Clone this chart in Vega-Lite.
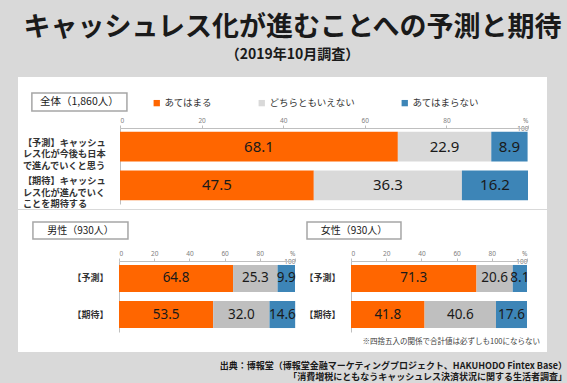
{
  "$schema": "https://vega.github.io/schema/vega-lite/v6.json",
  "background": "#d9d9d9",
  "padding": {"left": 18, "right": 5, "top": 14, "bottom": 1},
  "config": {"font": "Noto Sans CJK JP", "view": {"stroke": null}},
  "title": {
    "text": "キャッシュレス化が進むことへの予測と期待",
    "subtitle": "（2019年10月調査）",
    "fontSize": 27, "fontWeight": "bold", "color": "#1a1a1a",
    "subtitleFontSize": 14, "subtitleFontWeight": "bold", "subtitleColor": "#1a1a1a",
    "subtitlePadding": 6, "offset": 14, "anchor": "middle"
  },
  "datasets": {
    "bars": [
      {"panel": "全体", "row": "【予測】", "cat": "あてはまる", "k": 1, "v": 68.1},
      {"panel": "全体", "row": "【予測】", "cat": "どちらともいえない", "k": 2, "v": 22.9},
      {"panel": "全体", "row": "【予測】", "cat": "あてはまらない", "k": 3, "v": 8.9},
      {"panel": "全体", "row": "【期待】", "cat": "あてはまる", "k": 1, "v": 47.5},
      {"panel": "全体", "row": "【期待】", "cat": "どちらともいえない", "k": 2, "v": 36.3},
      {"panel": "全体", "row": "【期待】", "cat": "あてはまらない", "k": 3, "v": 16.2},
      {"panel": "男性", "row": "【予測】", "cat": "あてはまる", "k": 1, "v": 64.8},
      {"panel": "男性", "row": "【予測】", "cat": "どちらともいえない", "k": 2, "v": 25.3},
      {"panel": "男性", "row": "【予測】", "cat": "あてはまらない", "k": 3, "v": 9.9},
      {"panel": "男性", "row": "【期待】", "cat": "あてはまる", "k": 1, "v": 53.5},
      {"panel": "男性", "row": "【期待】", "cat": "どちらともいえない", "k": 2, "v": 32.0},
      {"panel": "男性", "row": "【期待】", "cat": "あてはまらない", "k": 3, "v": 14.6},
      {"panel": "女性", "row": "【予測】", "cat": "あてはまる", "k": 1, "v": 71.3},
      {"panel": "女性", "row": "【予測】", "cat": "どちらともいえない", "k": 2, "v": 20.6},
      {"panel": "女性", "row": "【予測】", "cat": "あてはまらない", "k": 3, "v": 8.1},
      {"panel": "女性", "row": "【期待】", "cat": "あてはまる", "k": 1, "v": 41.8},
      {"panel": "女性", "row": "【期待】", "cat": "どちらともいえない", "k": 2, "v": 40.6},
      {"panel": "女性", "row": "【期待】", "cat": "あてはまらない", "k": 3, "v": 17.6}
    ],
    "labels": [
      {"panel": "全体", "row": "【予測】", "label": "【予測】キャッシュ\nレス化が今後も日本\nで進んでいくと思う"},
      {"panel": "全体", "row": "【期待】", "label": "【期待】キャッシュ\nレス化が進んでいく\nことを期待する"}
    ],
    "heads": [
      {"panel": "全体", "title": "全体（1,860人）"},
      {"panel": "男性", "title": "男性（930人）"},
      {"panel": "女性", "title": "女性（930人）"}
    ]
  },
  "resolve": {"scale": {"color": "independent"}, "legend": {"color": "independent"}},
  "spacing": -1,
  "vconcat": [
    {
      "width": 529, "height": 132,
      "view": {"fill": "white", "stroke": null},
      "resolve": {"scale": {"y": "independent"}},
      "layer": [
        {
          "layer": [
            {
              "data": {"name": "bars"},
              "transform": [{"filter": "datum.panel == '全体'"}],
              "mark": {"type": "bar"},
              "encoding": {
                "x": {"field": "v", "type": "quantitative", "stack": "zero",
                  "scale": {"domain": [0, 100], "range": [102, 510]},
                  "axis": {"orient": "top", "offset": -51, "values": [0, 20, 40, 60, 80, 100], "title": null, "grid": false,
                    "labelExpr": "datum.value == 100 ? ['%', '100'] : datum.label",
                    "labelFontSize": 6.5, "labelColor": "#808080", "labelPadding": 2, "labelFont": "Noto Sans",
                    "tickSize": 3, "tickColor": "#bfbfbf", "domainColor": "#bfbfbf"}},
                "y": {"field": "row", "type": "nominal", "sort": ["【予測】", "【期待】"],
                  "scale": {"range": [51, 127], "paddingInner": 0.23, "paddingOuter": 0.1},
                  "axis": {"orient": "left", "offset": -102, "labels": false, "ticks": false, "title": null, "domainColor": "#bfbfbf"}},
                "color": {"field": "cat", "type": "nominal",
                  "scale": {"domain": ["あてはまる", "どちらともいえない", "あてはまらない"], "range": ["#ff6600", "#d9d9d9", "#3d85b7"]},
                  "legend": {"orient": "none", "legendX": 134, "legendY": 21, "direction": "horizontal", "title": null,
                    "symbolType": "square", "symbolSize": 40, "symbolStrokeWidth": 0, "labelFontSize": 9.5, "labelColor": "#333333",
                    "columnPadding": 44, "labelOffset": 3, "padding": 0}},
                "order": {"field": "k", "type": "quantitative"}
              }
            },
            {
              "data": {"name": "bars"},
              "transform": [
                {"filter": "datum.panel == '全体'"},
                {"stack": "v", "groupby": ["row"], "sort": [{"field": "k", "order": "ascending"}], "as": ["v0", "v1"]},
                {"calculate": "(datum.v0 + datum.v1) / 2", "as": "mid"}
              ],
              "mark": {"type": "text", "fontSize": 15, "color": "#1a1a1a", "font": "Noto Sans"},
              "encoding": {
                "x": {"field": "mid", "type": "quantitative", "scale": {"domain": [0, 100], "range": [102, 510]}},
                "y": {"field": "row", "type": "nominal", "sort": ["【予測】", "【期待】"], "scale": {"range": [51, 127], "paddingInner": 0.23, "paddingOuter": 0.1}},
                "text": {"field": "v", "type": "quantitative", "format": ".1f"}
              }
            },
            {
              "data": {"name": "labels"},
              "transform": [{"filter": "datum.panel == '全体'"}],
              "mark": {"type": "text", "align": "left", "baseline": "middle", "dy": -4, "lineBreak": "\n", "lineHeight": 11.5, "fontSize": 9.2, "fontWeight": "bold", "color": "#333333"},
              "encoding": {
                "x": {"datum": -23.8, "type": "quantitative", "scale": {"domain": [0, 100], "range": [102, 510]}},
                "y": {"field": "row", "type": "nominal", "sort": ["【予測】", "【期待】"], "scale": {"range": [51, 127], "paddingInner": 0.23, "paddingOuter": 0.1}},
                "text": {"field": "label"}
              }
            }
          ]
        },
        {
          "data": {"name": "heads"},
          "transform": [{"filter": "datum.panel == '全体'"}],
          "encoding": {
            "y": {"field": "panel", "type": "nominal", "scale": {"range": [16, 34], "paddingInner": 0, "paddingOuter": 0}, "axis": null}
          },
          "layer": [
            {"mark": {"type": "rect", "fill": "white", "stroke": "#a6a6a6", "strokeWidth": 1.5},
             "encoding": {"x": {"datum": -21.6, "type": "quantitative", "scale": {"domain": [0, 100], "range": [102, 510]}}, "x2": {"datum": 1.7}}},
            {"mark": {"type": "text", "fontSize": 10.5, "color": "#1a1a1a"},
             "encoding": {"x": {"datum": -9.95, "type": "quantitative", "scale": {"domain": [0, 100], "range": [102, 510]}}, "text": {"field": "title"}}}
          ]
        }
      ]
    },
    {
      "spacing": 0,
      "title": {
        "text": ["出典：博報堂（博報堂金融マーケティングプロジェクト、HAKUHODO Fintex Base）", "「消費増税にともなうキャッシュレス決済状況に関する生活者調査」"],
        "orient": "bottom", "anchor": "end", "fontSize": 9, "fontWeight": "bold", "color": "#1a1a1a",
        "lineHeight": 11, "offset": 10, "dx": 20
      },
      "hconcat": [
        {
          "width": 284, "height": 142,
          "view": {"fill": "white", "stroke": null},
          "resolve": {"scale": {"y": "independent"}},
          "layer": [
            {
              "layer": [
                {
                  "data": {"name": "bars"},
                  "transform": [{"filter": "datum.panel == '男性'"}],
                  "mark": {"type": "bar"},
                  "encoding": {
                    "x": {"field": "v", "type": "quantitative", "stack": "zero",
                      "scale": {"domain": [0, 100], "range": [101, 277]},
                      "axis": {"orient": "top", "offset": -51, "values": [0, 20, 40, 60, 80, 100], "title": null, "grid": false,
                        "labelExpr": "datum.value == 100 ? ['%', '100'] : datum.label",
                        "labelFontSize": 6.5, "labelColor": "#808080", "labelPadding": 2, "labelFont": "Noto Sans",
                        "tickSize": 3, "tickColor": "#bfbfbf", "domainColor": "#bfbfbf"}},
                    "y": {"field": "row", "type": "nominal", "sort": ["【予測】", "【期待】"],
                      "scale": {"range": [51, 122], "paddingInner": 0.25, "paddingOuter": 0.11},
                      "axis": {"orient": "left", "offset": -101, "labels": true, "ticks": false, "title": null, "domainColor": "#bfbfbf",
                        "labelPadding": 11, "labelFontSize": 9, "labelFontWeight": "bold", "labelColor": "#333333"}},
                    "color": {"field": "cat", "type": "nominal",
                      "scale": {"domain": ["あてはまる", "どちらともいえない", "あてはまらない"], "range": ["#ff6600", "#bfbfbf", "#3d85b7"]},
                      "legend": null},
                    "order": {"field": "k", "type": "quantitative"}
                  }
                },
                {
                  "data": {"name": "bars"},
                  "transform": [
                    {"filter": "datum.panel == '男性'"},
                    {"stack": "v", "groupby": ["row"], "sort": [{"field": "k", "order": "ascending"}], "as": ["v0", "v1"]},
                    {"calculate": "(datum.v0 + datum.v1) / 2", "as": "mid"}
                  ],
                  "mark": {"type": "text", "fontSize": 13.5, "color": "#1a1a1a", "font": "Noto Sans"},
                  "encoding": {
                    "x": {"field": "mid", "type": "quantitative", "scale": {"domain": [0, 100], "range": [101, 277]}},
                    "y": {"field": "row", "type": "nominal", "sort": ["【予測】", "【期待】"], "scale": {"range": [51, 122], "paddingInner": 0.25, "paddingOuter": 0.11}},
                    "text": {"field": "v", "type": "quantitative", "format": ".1f"}
                  }
                }
              ]
            },
            {
              "data": {"name": "heads"},
              "transform": [{"filter": "datum.panel == '男性'"}],
              "encoding": {
                "y": {"field": "panel", "type": "nominal", "scale": {"range": [12, 29], "paddingInner": 0, "paddingOuter": 0}, "axis": null}
              },
              "layer": [
                {"mark": {"type": "rect", "fill": "white", "stroke": "#a6a6a6", "strokeWidth": 1.5},
                 "encoding": {"x": {"datum": -48.9, "type": "quantitative", "scale": {"domain": [0, 100], "range": [101, 277]}}, "x2": {"datum": 5.1}}},
                {"mark": {"type": "text", "fontSize": 10, "color": "#1a1a1a"},
                 "encoding": {"x": {"datum": -21.9, "type": "quantitative", "scale": {"domain": [0, 100], "range": [101, 277]}}, "text": {"field": "title"}}}
              ]
            }
          ]
        },
        {
          "width": 245, "height": 142,
          "view": {"fill": "white", "stroke": null},
          "title": {"text": "※四捨五入の関係で合計値は必ずしも100にならない", "orient": "bottom", "anchor": "end",
            "offset": -14, "dx": -7, "fontSize": 7.5, "fontWeight": "normal", "color": "#404040"},
          "resolve": {"scale": {"y": "independent"}},
          "layer": [
            {
              "layer": [
                {
                  "data": {"name": "bars"},
                  "transform": [{"filter": "datum.panel == '女性'"}],
                  "mark": {"type": "bar"},
                  "encoding": {
                    "x": {"field": "v", "type": "quantitative", "stack": "zero",
                      "scale": {"domain": [0, 100], "range": [49, 225]},
                      "axis": {"orient": "top", "offset": -51, "values": [0, 20, 40, 60, 80, 100], "title": null, "grid": false,
                        "labelExpr": "datum.value == 100 ? ['%', '100'] : datum.label",
                        "labelFontSize": 6.5, "labelColor": "#808080", "labelPadding": 2, "labelFont": "Noto Sans",
                        "tickSize": 3, "tickColor": "#bfbfbf", "domainColor": "#bfbfbf"}},
                    "y": {"field": "row", "type": "nominal", "sort": ["【予測】", "【期待】"],
                      "scale": {"range": [51, 122], "paddingInner": 0.25, "paddingOuter": 0.11},
                      "axis": {"orient": "left", "offset": -49, "labels": true, "ticks": false, "title": null, "domainColor": "#bfbfbf",
                        "labelPadding": 11, "labelFontSize": 9, "labelFontWeight": "bold", "labelColor": "#333333"}},
                    "color": {"field": "cat", "type": "nominal",
                      "scale": {"domain": ["あてはまる", "どちらともいえない", "あてはまらない"], "range": ["#ff6600", "#bfbfbf", "#3d85b7"]},
                      "legend": null},
                    "order": {"field": "k", "type": "quantitative"}
                  }
                },
                {
                  "data": {"name": "bars"},
                  "transform": [
                    {"filter": "datum.panel == '女性'"},
                    {"stack": "v", "groupby": ["row"], "sort": [{"field": "k", "order": "ascending"}], "as": ["v0", "v1"]},
                    {"calculate": "(datum.v0 + datum.v1) / 2", "as": "mid"}
                  ],
                  "mark": {"type": "text", "fontSize": 13.5, "color": "#1a1a1a", "font": "Noto Sans"},
                  "encoding": {
                    "x": {"field": "mid", "type": "quantitative", "scale": {"domain": [0, 100], "range": [49, 225]}},
                    "y": {"field": "row", "type": "nominal", "sort": ["【予測】", "【期待】"], "scale": {"range": [51, 122], "paddingInner": 0.25, "paddingOuter": 0.11}},
                    "text": {"field": "v", "type": "quantitative", "format": ".1f"}
                  }
                }
              ]
            },
            {
              "data": {"name": "heads"},
              "transform": [{"filter": "datum.panel == '女性'"}],
              "encoding": {
                "y": {"field": "panel", "type": "nominal", "scale": {"range": [12, 29], "paddingInner": 0, "paddingOuter": 0}, "axis": null}
              },
              "layer": [
                {"mark": {"type": "rect", "fill": "white", "stroke": "#a6a6a6", "strokeWidth": 1.5},
                 "encoding": {"x": {"datum": -25.0, "type": "quantitative", "scale": {"domain": [0, 100], "range": [49, 225]}}, "x2": {"datum": 28.4}}},
                {"mark": {"type": "text", "fontSize": 10, "color": "#1a1a1a"},
                 "encoding": {"x": {"datum": 1.7, "type": "quantitative", "scale": {"domain": [0, 100], "range": [49, 225]}}, "text": {"field": "title"}}}
              ]
            }
          ]
        }
      ]
    }
  ]
}
